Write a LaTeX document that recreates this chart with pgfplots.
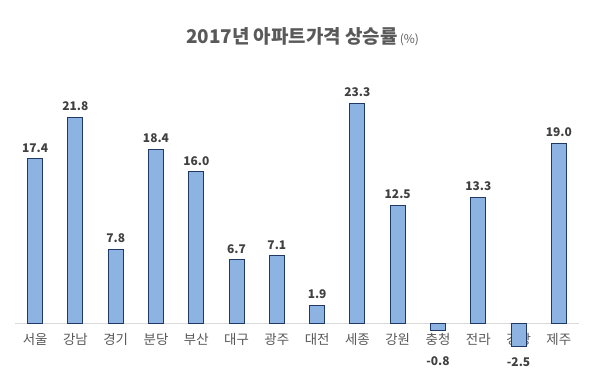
\documentclass[border=0pt]{standalone}
\usepackage{pgfplots}
\pgfplotsset{compat=1.18}
\usepackage{fontspec}
\setmainfont{Noto Sans CJK KR}
\definecolor{barfill}{HTML}{8DB3E2}
\definecolor{baredge}{HTML}{1F3864}
\definecolor{txt}{HTML}{595959}
\definecolor{vtxt}{HTML}{404040}
\begin{document}
\begin{tikzpicture}
\useasboundingbox (0,0) rectangle (605bp,386bp);
\node[text=txt, anchor=center] at (302.5bp,349bp) {{\fontsize{19}{20}\selectfont\bfseries 2017년 아파트가격 상승률} {\fontsize{12}{12}\selectfont (\%)}};
\begin{axis}[
  at={(15bp,25.2bp)}, anchor=south west,
  width=564bp, height=273.8bp, scale only axis,
  xmin=-0.5, xmax=13.5, ymin=-4, ymax=25,
  axis x line*=middle, axis y line=none,
  hide obscured x ticks=false,
  x axis line style={draw=black!15, line width=1bp},
  xtick={0,...,13},
  xticklabels={서울,강남,경기,분당,부산,대구,광주,대전,세종,강원,충청,전라,경상,제주},
  major tick length=0pt,
  xticklabel style={font=\fontsize{13.5}{15}\selectfont, text=txt, yshift=-7bp},
  ytick=\empty,
  clip=false,
  /pgf/number format/assume math mode=true,
]
\addplot[ybar, bar width=15bp, bar shift=0pt, fill=barfill, draw=baredge, line width=1bp]
 coordinates {(0,17.4) (1,21.8) (2,7.8) (3,18.4) (4,16.0) (5,6.7) (6,7.1) (7,1.9) (8,23.3) (9,12.5) (10,-0.8) (11,13.3) (12,-2.5) (13,19.0)};
\addplot[draw=none, mark=none, nodes near coords, point meta=y,
  nodes near coords style={font=\fontsize{12}{13}\selectfont\bfseries, text=vtxt, anchor=south, yshift=3bp,
  /pgf/number format/.cd, fixed, fixed zerofill, precision=1, assume math mode=true}]
 coordinates {(0,17.4) (1,21.8) (2,7.8) (3,18.4) (4,16.0) (5,6.7) (6,7.1) (7,1.9) (8,23.3) (9,12.5) (11,13.3) (13,19.0)};
\addplot[draw=none, mark=none, nodes near coords, point meta=explicit symbolic,
  nodes near coords style={font=\fontsize{12}{13}\selectfont\bfseries, text=vtxt, anchor=center}]
 coordinates {(10,-4)[-0.8] (12,-4.1)[-2.5]};
\end{axis}
\end{tikzpicture}
\end{document}
